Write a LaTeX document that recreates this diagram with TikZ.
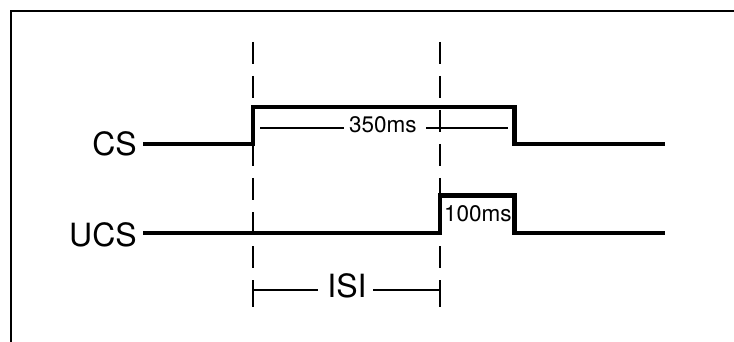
\documentclass[tikz,border=0pt]{standalone}
\usepackage{fontspec}
\setmainfont{TeX Gyre Heros}
\begin{document}
\begin{tikzpicture}[x=1pt,y=-1pt,
  signal/.style={line width=4.5pt,line join=miter,line cap=butt},
  guide/.style={line width=1.2pt,dash pattern=on 22pt off 12pt},
  dimline/.style={line width=1.2pt},
  framel/.style={line width=2pt},
  biglabel/.style={font=\fontsize{32}{36}\selectfont,inner sep=0pt,anchor=base east},
  smalllabel/.style={font=\fontsize{22.5}{26}\selectfont,inner sep=0pt,anchor=base west}]
\useasboundingbox (0,0) rectangle (734,342);
% frame (top and left only)
\draw[framel] (11,342) -- (11,11) -- (734,11);
% guides
\draw[guide] (253,42) -- (253,268);
\draw[guide] (440,42) -- (440,268);
% labels
\node[biglabel] (cs) at (137,156) {CS};
\node[biglabel] (ucs) at (137,246) {UCS};
% signals
\draw[signal] (143,144) -- (253,144) -- (253,107) -- (514.5,107) -- (514.5,144) -- (665,144);
\draw[signal] (143,233) -- (440,233) -- (440,195.5) -- (514.5,195.5) -- (514.5,233) -- (665,233);
% 350ms dimension
\node[smalllabel] (t350) at (349,133) {350ms};
\draw[dimline] (260,128) -- (344,128);
\draw[dimline] (426,128) -- (508,128);
% 100ms
\node[smalllabel] (t100) at (444,222) {100ms};
% ISI bracket
\node[font=\fontsize{32}{36}\selectfont,inner sep=0pt,anchor=base] (isi) at (347,297) {ISI};
\draw[dimline] (253,280) -- (253,307);
\draw[dimline] (440,280) -- (440,307);
\draw[dimline] (253,290) -- (318,290);
\draw[dimline] (373,290) -- (440,290);
\end{tikzpicture}
\end{document}
